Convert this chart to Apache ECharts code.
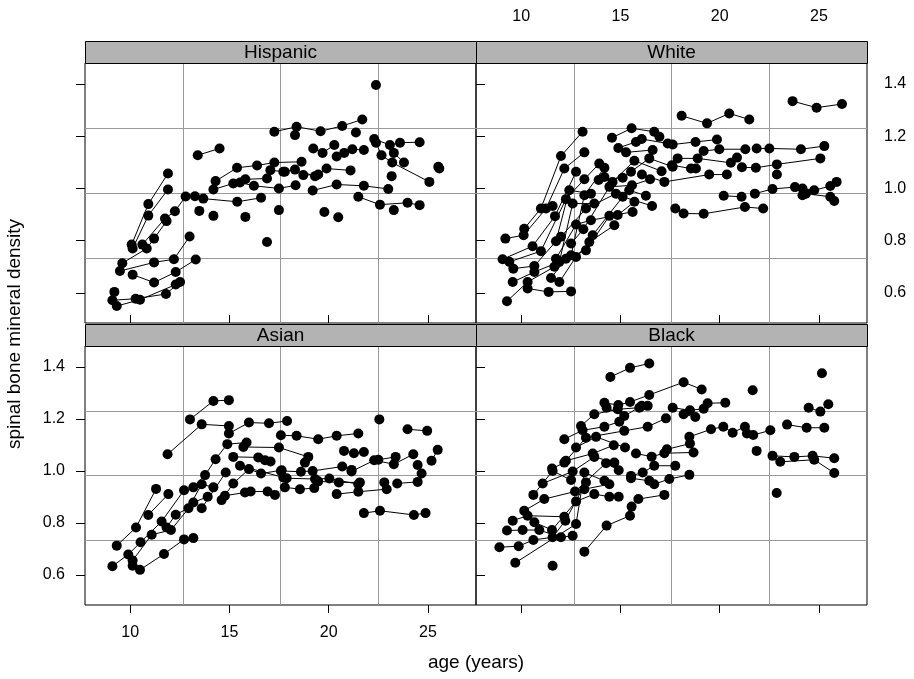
<!DOCTYPE html>
<html>
<head>
<meta charset="utf-8">
<script src="https://cdn.jsdelivr.net/npm/echarts@6/dist/echarts.min.js"></script>
<style>
  html, body { margin: 0; padding: 0; background: #fff; }
  #chart { width: 914px; height: 679px; }
</style>
</head>
<body>
<div id="chart"></div>
<script>
// Spinal bone mineral density by age, one trajectory per subject, panelled by ethnic group.
const panelNames = ['Hispanic', 'White', 'Asian', 'Black'];
const ageTicks = [10, 15, 20, 25];
const bmdTicks = [0.6, 0.8, 1.0, 1.2, 1.4];

// each subject: list of [age, spnbmd] visits
const hispanic = [
  [[10.07,0.785],[10.91,0.940],[11.90,1.057]],
  [[10.12,0.770],[10.91,0.896],[11.90,0.996]],
  [[9.60,0.714],[10.83,0.770],[11.20,0.808],[11.83,0.875]],
  [[10.61,0.785],[11.75,0.885],[12.25,0.913],[12.79,0.969]],
  [[13.26,0.970],[13.68,0.961],[15.39,0.949],[16.59,0.964]],
  [[9.48,0.684],[11.20,0.717],[12.20,0.729],[12.99,0.816]],
  [[10.12,0.670],[11.20,0.640],[12.29,0.680],[13.30,0.728]],
  [[9.10,0.572],[10.27,0.578],[11.80,0.596],[12.51,0.642]],
  [[9.20,0.604]],
  [[9.32,0.550],[10.49,0.574],[12.29,0.632]],
  [[13.48,0.914]], [[14.19,0.895]], [[15.80,0.891]], [[16.89,0.795]], [[17.49,0.917]],
  [[13.40,1.127],[14.50,1.153]],
  [[14.30,1.028],[15.38,1.079],[16.39,1.088],[17.26,1.099],[18.63,1.102]],
  [[14.19,0.996],[15.19,1.019],[15.80,1.035],[16.89,1.038]],
  [[15.53,1.023],[16.23,1.010],[17.49,1.000],[18.33,1.012]],
  [[17.06,1.070],[17.71,1.064]],
  [[17.26,1.217],[18.38,1.236],[19.59,1.219],[20.68,1.239],[21.69,1.264]],
  [[18.30,1.204]],
  [[22.29,1.189],[23.08,1.166],[23.59,1.175],[24.58,1.177]],
  [[22.38,1.175],[22.66,1.127],[23.20,1.099],[25.07,1.025]],
  [[23.28,1.136],[23.79,1.099]],
  [[19.22,1.153],[19.69,1.136],[20.28,1.166]],
  [[20.40,1.122],[20.78,1.136],[21.19,1.150],[21.77,1.147]],
  [[21.37,1.214]],
  [[22.38,1.396]],
  [[17.79,1.064],[18.30,1.072],[19.31,1.047]],
  [[18.72,1.051],[19.47,1.053],[19.89,1.076],[21.10,1.069]],
  [[19.19,0.992],[20.40,1.015],[21.77,1.010],[23.00,0.998]],
  [[23.17,1.047]],
  [[25.52,1.083],[25.57,1.076]],
  [[21.49,0.968],[22.58,0.938],[23.97,0.945],[24.58,0.936]],
  [[23.28,0.917]],
  [[19.78,0.910]], [[20.48,0.890]]
];

const white = [
  [[10.15,0.846],[10.99,0.923],[12.00,1.124],[13.09,1.217]],
  [[9.20,0.808],[10.12,0.821],[11.25,0.923],[12.17,1.076],[13.18,1.138]],
  [[9.06,0.729],[10.57,0.779],[11.70,0.894],[12.76,1.064]],
  [[9.40,0.719],[10.99,0.760],[12.25,0.959],[13.18,1.035],[13.93,1.095]],
  [[9.60,0.693],[10.66,0.703],[11.75,0.798],[12.42,0.993],[13.51,0.980]],
  [[9.57,0.642],[10.66,0.680],[11.92,0.719],[12.59,0.942],[13.68,0.942]],
  [[9.28,0.568],[10.32,0.642],[11.67,0.700]],
  [[12.51,0.744],[13.18,0.974],[14.19,1.079]],
  [[10.32,0.617],[11.38,0.604],[12.51,0.606]],
  [[11.50,0.657],[12.25,0.731],[13.26,0.763],[14.44,0.895],[15.61,0.910]],
  [[11.92,0.642],[12.76,0.738],[13.43,0.795],[14.69,0.859]],
  [[11.75,0.731],[12.76,0.862],[13.51,0.878],[14.86,0.898],[15.70,0.949]],
  [[12.51,0.789],[13.13,0.844],[14.44,1.006],[15.58,1.012],[16.49,1.035]],
  [[13.60,0.821],[15.11,0.968],[16.59,0.933]],
  [[14.57,1.194],[15.56,1.230],[16.70,1.217],[16.96,1.198]],
  [[14.89,1.155],[15.78,1.178],[16.07,1.189],[17.38,1.172]],
  [[13.90,1.032],[15.11,1.041],[16.45,1.115],[17.63,1.083]],
  [[14.19,1.044],[14.60,1.025],[15.70,1.106],[17.07,1.066]],
  [[12.00,0.815],[13.26,0.923],[14.77,0.980]],
  [[16.08,1.053],[17.21,1.025],[19.47,1.053],[20.36,1.053]],
  [[15.44,0.993],[16.28,0.972]],
  [[15.28,1.138],[16.62,1.147]],
  [[15.53,1.064]],
  [[11.58,0.933]],
  [[23.67,1.334],[24.88,1.309],[26.16,1.323]],
  [[18.08,1.278],[19.36,1.249],[20.48,1.287],[21.49,1.264]],
  [[17.63,1.168],[18.78,1.178],[19.86,1.187]],
  [[19.19,1.143],[19.98,1.150],[21.29,1.150]],
  [[21.86,1.153],[22.50,1.153],[24.09,1.150],[25.27,1.162]],
  [[17.88,1.115],[18.89,1.115],[20.56,1.098],[20.87,1.118]],
  [[21.12,1.081],[21.82,1.079],[22.88,1.092],[25.07,1.115]],
  [[17.59,1.089],[18.55,1.076],[18.80,1.076]],
  [[22.88,1.053]],
  [[20.20,0.972],[21.10,0.968]],
  [[21.77,0.980],[22.66,0.998],[23.79,1.005]],
  [[24.17,1.000],[24.76,0.993],[25.57,1.009],[25.89,1.025]],
  [[24.17,0.974],[24.34,0.980],[25.57,0.968],[25.77,0.952]],
  [[17.76,0.923],[18.18,0.904],[19.19,0.903],[21.27,0.929],[22.19,0.923]]
];

const asian = [
  [[13.01,1.198],[14.19,1.269],[14.97,1.272]],
  [[11.88,1.064],[13.60,1.179],[14.97,1.173]],
  [[14.97,1.144],[15.98,1.186],[16.99,1.183],[17.90,1.192]],
  [[17.59,1.137],[18.38,1.135],[19.47,1.122],[20.40,1.135],[21.49,1.144]],
  [[15.70,1.092],[17.49,1.090],[18.97,1.054]],
  [[18.80,1.032]],
  [[15.19,1.054],[16.45,1.052],[16.79,1.041],[17.07,1.036]],
  [[9.32,0.713],[10.29,0.783],[11.30,0.931]],
  [[10.91,0.831],[11.92,0.911]],
  [[9.10,0.634],[9.90,0.679],[10.52,0.726],[11.58,0.806],[12.71,0.926]],
  [[10.12,0.656],[11.08,0.755],[12.05,0.773],[13.18,0.879],[13.90,0.901]],
  [[10.12,0.636],[10.49,0.620],[11.70,0.681],[12.71,0.737],[13.18,0.742]],
  [[11.83,0.783],[12.29,0.832],[12.93,0.857],[13.60,0.949],[14.19,0.937]],
  [[13.18,0.937],[13.77,0.984],[14.30,1.045],[14.89,1.103],[15.86,1.109]],
  [[13.60,0.857],[14.81,0.994]],
  [[14.77,0.905],[15.78,0.917],[16.07,0.921],[16.92,0.921],[17.29,0.908]],
  [[14.60,0.888],[15.19,0.952],[15.98,1.007],[16.59,0.990],[17.63,1.003]],
  [[15.53,1.020],[17.71,0.975]],
  [[22.55,1.198]],
  [[23.97,1.160],[24.96,1.154]],
  [[20.77,1.077],[21.27,1.068],[21.77,1.073]],
  [[21.15,0.998],[22.29,1.041],[23.28,1.026],[24.26,1.064]],
  [[22.50,1.043],[23.37,1.054]],
  [[25.18,1.039],[25.49,1.081]],
  [[24.48,1.023]], [[24.68,0.990]],
  [[17.59,1.000],[18.60,0.997],[19.19,1.000],[20.68,1.017],[21.15,1.004]],
  [[17.88,0.972],[19.31,0.969],[20.03,0.971],[21.49,0.949]],
  [[19.47,0.960],[20.51,0.956],[21.57,0.956]],
  [[22.80,0.956]],
  [[23.45,0.952],[24.48,0.958]],
  [[17.79,0.937],[18.55,0.930],[19.27,0.934]],
  [[20.40,0.911],[21.49,0.920],[22.92,0.930]],
  [[21.77,0.838],[22.58,0.847],[24.29,0.831],[24.88,0.838]]
];

const black = [
  [[14.49,1.361],[15.48,1.396],[16.45,1.413]],
  [[14.19,1.262],[14.89,1.253],[15.48,1.265],[16.45,1.292],[18.18,1.341],[19.09,1.313]],
  [[13.01,1.173],[13.68,1.218],[14.86,1.237],[15.95,1.243]],
  [[12.17,1.122],[13.09,1.156],[14.19,1.170],[14.94,1.189]],
  [[11.55,1.009],[12.17,1.032],[13.26,1.128],[15.19,1.154],[16.37,1.170],[17.29,1.202]],
  [[18.18,1.218],[18.77,1.207]],
  [[12.76,1.090],[13.77,1.131],[15.23,1.090]],
  [[12.25,1.039],[13.60,1.067],[14.66,1.099]],
  [[15.78,1.067],[16.57,1.055],[17.21,1.068],[18.68,1.071]],
  [[11.08,0.952],[12.59,0.998],[13.68,1.054],[14.69,1.032]],
  [[10.61,0.908],[11.58,1.000],[12.51,0.965]],
  [[10.15,0.847],[11.16,0.892],[12.71,0.921],[14.27,1.030],[14.91,1.003]],
  [[9.57,0.809],[10.32,0.828],[12.17,0.824]],
  [[9.28,0.771],[10.07,0.773],[10.91,0.773],[12.00,0.745],[12.59,0.751]],
  [[10.66,0.803],[11.55,0.773],[12.76,0.883],[13.68,0.911],[14.44,0.901],[14.91,0.901]],
  [[8.90,0.707],[9.87,0.711],[10.61,0.735],[11.58,0.745],[12.22,0.809],[13.26,0.956]],
  [[9.70,0.647],[12.76,0.796],[13.18,0.994],[14.19,0.962]],
  [[13.18,0.690],[14.30,0.790],[15.48,0.828],[15.56,0.863],[15.90,0.892],[17.21,0.908]],
  [[15.53,0.972],[16.45,0.962],[16.70,0.949],[17.46,0.969],[18.47,0.985]],
  [[15.53,0.981],[16.12,0.994],[16.70,1.020],[17.76,1.020]],
  [[13.18,0.930],[14.44,0.949]],
  [[14.30,1.243],[15.19,1.211],[16.07,1.250],[16.37,1.250]],
  [[17.34,1.083],[18.50,1.105]],
  [[24.48,1.243],[25.07,1.228],[25.47,1.256]],
  [[17.63,1.243],[18.50,1.233],[19.19,1.239],[19.39,1.260],[20.28,1.262]],
  [[23.39,1.178],[24.38,1.166],[25.27,1.166]],
  [[18.47,1.131],[19.56,1.160],[20.18,1.170],[20.65,1.147],[21.27,1.170]],
  [[21.37,1.144],[21.69,1.138],[22.55,1.156]],
  [[22.66,1.058],[23.76,1.054],[24.68,1.058],[25.77,1.049]],
  [[23.05,1.035],[24.76,1.043],[25.77,0.992]],
  [[11.58,0.636]], [[21.66,1.310]], [[25.15,1.375]], [[21.86,1.077]], [[22.87,0.915]]
];

const groups = [hispanic, white, asian, black];

// ---- layout ----
const FONT = "'Liberation Sans', Arial, Helvetica, sans-serif";
const PANEL_W = 391;
const panelBoxes = [
  { left: 85,  top: 63,  height: 260 },
  { left: 476, top: 63,  height: 260 },
  { left: 85,  top: 346, height: 259 },
  { left: 476, top: 346, height: 259 }
];
const STRIP_H = 22;
const AGE_RANGE = [7.72, 27.42];
const BMD_RANGE = [0.485, 1.48];

const grid = panelBoxes.map(b => ({
  left: b.left, top: b.top, width: PANEL_W, height: b.height,
  show: true, borderColor: '#000', borderWidth: 1, backgroundColor: 'transparent',
  containLabel: false
}));

const tickStyle = { color: '#000', width: 1 };
const labelStyle = { color: '#000', fontSize: 16, fontFamily: FONT };

const xAxis = [];
const yAxis = [];
panelBoxes.forEach((b, g) => {
  const isTop = g < 2;
  const isLeft = g % 2 === 0;
  xAxis.push({
    type: 'value', gridIndex: g, min: AGE_RANGE[0], max: AGE_RANGE[1],
    position: isTop ? 'top' : 'bottom', offset: isTop ? STRIP_H : 0,
    axisLine: { show: false },
    axisTick: { show: true, length: 8, customValues: ageTicks, lineStyle: tickStyle },
    axisLabel: Object.assign({ show: g === 1 || g === 2, customValues: ageTicks,
      margin: isTop ? 16 : 20 }, labelStyle),
    splitLine: { show: false }
  });
  yAxis.push({
    type: 'value', gridIndex: g, min: BMD_RANGE[0], max: BMD_RANGE[1],
    position: isLeft ? 'left' : 'right',
    axisLine: { show: false },
    axisTick: { show: true, length: 9, customValues: bmdTicks, lineStyle: tickStyle },
    axisLabel: Object.assign({ show: g === 1 || g === 2, customValues: bmdTicks,
      margin: isLeft ? 20 : 17, formatter: v => Number(v).toFixed(1) }, labelStyle),
    splitLine: { show: false }
  });
});
// reference grid: each panel divided into quarters
const quarterAxis = g => ({
  type: 'value', gridIndex: g, min: 0, max: 4, interval: 1,
  axisLine: { show: false }, axisTick: { show: false }, axisLabel: { show: false },
  splitLine: { show: true, showMinLine: false, showMaxLine: false,
    lineStyle: { color: '#9a9a9a', width: 1 } }
});
panelBoxes.forEach((b, g) => { xAxis.push(quarterAxis(g)); yAxis.push(quarterAxis(g)); });

const series = [];
groups.forEach((subjects, g) => {
  subjects.forEach(visits => {
    series.push({
      type: 'line', xAxisIndex: g, yAxisIndex: g,
      data: visits,
      symbol: 'circle', symbolSize: 10, showSymbol: true,
      itemStyle: { color: '#000' },
      lineStyle: { color: '#000', width: 1 },
      silent: true, animation: false, z: 3
    });
  });
});

const graphic = [];
panelBoxes.forEach((b, g) => {
  const y0 = b.top - STRIP_H;
  graphic.push({
    type: 'rect', z: 10,
    shape: { x: b.left + 0.5, y: y0 + 0.5, width: PANEL_W, height: STRIP_H },
    style: { fill: '#b3b3b3', stroke: '#000', lineWidth: 1 }
  });
  graphic.push({
    type: 'text', z: 11,
    x: b.left + PANEL_W / 2, y: y0 + STRIP_H / 2 + 1,
    style: { text: panelNames[g], fill: '#000', font: '19px ' + FONT,
      textAlign: 'center', textVerticalAlign: 'middle' }
  });
});
graphic.push({
  type: 'text', x: 476, y: 663,
  style: { text: 'age (years)', fill: '#000', font: '19px ' + FONT,
    textAlign: 'center', textVerticalAlign: 'middle' }
});
graphic.push({
  type: 'text', x: 15, y: 334, rotation: Math.PI / 2,
  style: { text: 'spinal bone mineral density', fill: '#000', font: '19px ' + FONT,
    textAlign: 'center', textVerticalAlign: 'middle' }
});

const chart = echarts.init(document.getElementById('chart'), null, { renderer: 'canvas' });
chart.setOption({
  animation: false,
  backgroundColor: '#fff',
  grid, xAxis, yAxis, series, graphic
});
</script>
</body>
</html>
